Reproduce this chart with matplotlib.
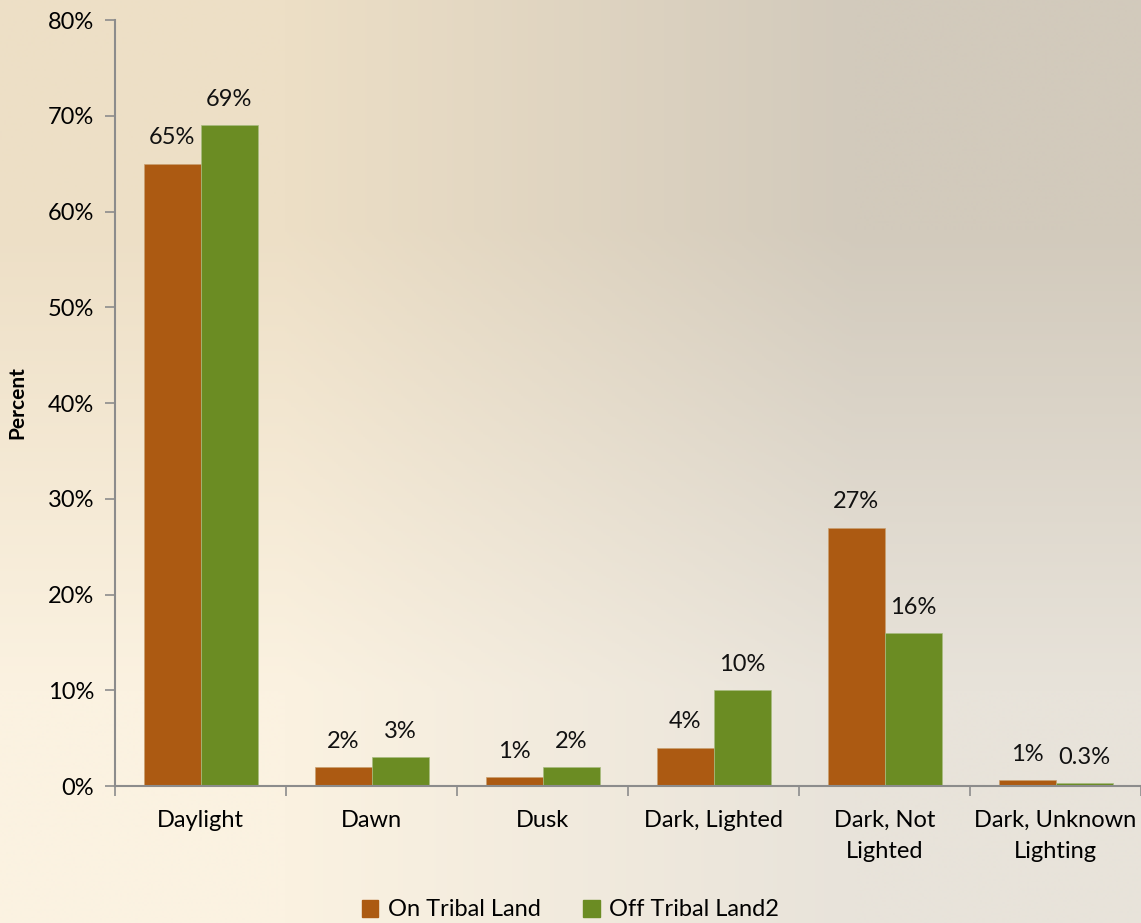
"""Light condition chart: on vs off tribal land"""
import numpy as np
import matplotlib
matplotlib.use("Agg")
import matplotlib.pyplot as plt
from matplotlib.colors import to_rgb
from matplotlib.patches import Patch
from matplotlib.ticker import FuncFormatter, MultipleLocator

categories = ["Daylight", "Dawn", "Dusk", "Dark, Lighted",
              "Dark, Not\nLighted", "Dark, Unknown\nLighting"]
on_tribal = [65, 2, 0.9, 4, 27, 0.6]
off_tribal = [69, 3, 2, 10, 16, 0.3]
on_labels = ["65%", "2%", "1%", "4%", "27%", "1%"]
off_labels = ["69%", "3%", "2%", "10%", "16%", "0.3%"]
series_names = ["On Tribal Land", "Off Tribal Land2"]

ORANGE = "#AC5A12"
GREEN = "#6B8C23"
AXIS = "#8C8C8C"
FS = 17

plt.rcParams["font.family"] = ["Lato", "DejaVu Sans"]

fig = plt.figure(figsize=(11.41, 9.23), dpi=100)

# background gradient (corners: tl, tr / bl, br)
bg = fig.add_axes([0, 0, 1, 1], zorder=-10)
corners = np.array([[to_rgb("#EDDFC6"), to_rgb("#D2CABC")],
                    [to_rgb("#FBF2E1"), to_rgb("#E8E3DA")]])
bg.imshow(corners, interpolation="bilinear", aspect="auto",
          extent=[0, 1, 0, 1])
bg.axis("off")

ax = fig.add_axes([0.1008, 0.1484, 0.8992, 0.8299])
ax.patch.set_alpha(0)

x = np.arange(len(categories))
w = 1 / 3
b1 = ax.bar(x - w / 2, on_tribal, w, color=ORANGE, edgecolor="#C9A070", lw=0.5)
b2 = ax.bar(x + w / 2, off_tribal, w, color=GREEN, edgecolor="#A8BC80", lw=0.5)

for bars, labels in ((b1, on_labels), (b2, off_labels)):
    for rect, lab in zip(bars, labels):
        ax.annotate(lab, (rect.get_x() + rect.get_width() / 2, rect.get_height()),
                    xytext=(0, 11), textcoords="offset points",
                    ha="center", va="bottom", fontsize=FS, color="#111111")

ax.set_xlim(-0.5, len(categories) - 0.5)
ax.set_ylim(0, 80)
ax.yaxis.set_major_locator(MultipleLocator(10))
ax.yaxis.set_major_formatter(FuncFormatter(lambda v, _: f"{v:.0f}%"))
ax.set_ylabel("Percent", fontsize=15, fontweight="bold")
ax.yaxis.set_label_coords(-0.085, 0.5)

ax.set_xticks(x)
ax.set_xticklabels(categories, fontsize=FS, linespacing=1.6)
ax.set_xticks(np.arange(len(categories) + 1) - 0.5, minor=True)
ax.tick_params(axis="x", which="major", length=0, pad=17)
ax.tick_params(axis="x", which="minor", length=7, color=AXIS, width=1.2)
ax.tick_params(axis="y", length=7, color=AXIS, width=1.2, labelsize=FS, pad=8)

for side in ("top", "right"):
    ax.spines[side].set_visible(False)
for side in ("left", "bottom"):
    ax.spines[side].set_color(AXIS)
    ax.spines[side].set_linewidth(1.5)

handles = [Patch(color=ORANGE), Patch(color=GREEN)]
fig.legend(handles, series_names, loc="center", bbox_to_anchor=(0.5, 13 / 923),
           ncol=2, frameon=False, fontsize=FS, handlelength=0.7,
           handleheight=0.7, handletextpad=0.4, columnspacing=1.8)

fig.savefig("out.png", dpi=100)
